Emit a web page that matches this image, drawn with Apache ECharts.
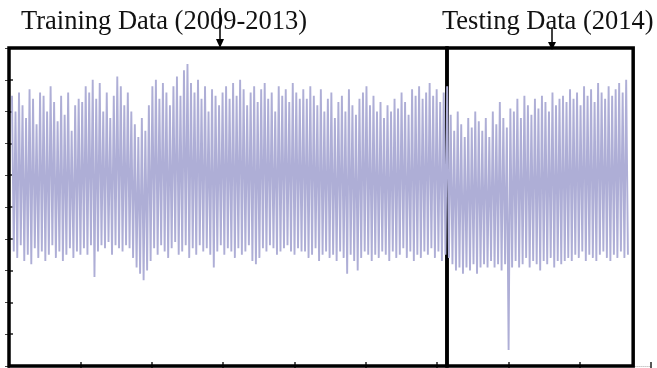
<!DOCTYPE html>
<html>
<head>
<meta charset="utf-8">
<script src="https://cdn.jsdelivr.net/npm/echarts@6/dist/echarts.min.js"></script>
<style>
  html, body { margin: 0; padding: 0; background: #fff; }
  #chart { width: 657px; height: 368px; }
</style>
</head>
<body>
<div id="chart"></div>
<script>
// one peak and one trough per cycle (axis units 0..100)
const peaks = [
  85,80,86,82,78,87,84,76,86,85,80,88,83,77,85,79,86,74,82,84,
  83,88,86,90,84,89,80,86,78,85,91,88,82,86,
  80,76,72,78,74,82,
  88,90,84,89,86,82,88,91,85,93,95,89,86,90,84,88,80,87,85,82,
  86,88,84,89,85,90,87,82,86,88,83,87,89,84,86,80,88,85,87,83,89,86,84,
  87,84,88,85,82,87,80,84,86,78,83,85,80,87,82,79,84,86,88,82,85,80,83,
  78,82,80,84,81,86,83,79,87,85,88,84,86,89,85,87,83,86,88,
  79,74,80,76,72,78,75,80,77,
  74,78,72,80,76,83,78,75,81,
  80,84,78,85,82,79,84,81,85,83,80,86,82,84,85,
  83,87,84,86,82,88,85,87,83,89,86,84,88,85,87,89,86,90
];
const troughs = [
  36,34,38,33,35,32,37,34,36,33,35,38,34,36,33,35,37,34,36,35,
  37,35,38,28,36,38,37,39,35,38,37,36,38,37,
  34,31,29,27,30,33,
  37,35,38,36,34,37,39,35,36,38,34,37,35,38,36,37,35,31,36,38,
  35,37,36,34,37,35,36,38,33,32,34,37,36,38,37,35,36,37,38,36,35,37,36,
  36,34,35,37,33,35,36,34,35,33,36,34,29,35,33,30,34,36,35,33,35,34,36,
  35,33,36,34,35,37,34,36,33,35,34,36,35,37,34,36,33,35,34,
  32,30,31,29,31,30,32,29,31,
  32,31,33,31,32,30,32,5,31,
  33,31,32,34,31,33,32,30,33,32,34,31,33,32,33,
  34,33,35,34,36,33,35,34,33,35,36,34,33,35,34,36,34,35
];
const boxEdges = [0, 6.14, 8.75];   // training | testing split on the x axis
const titles = ['Training Data (2009-2013)', 'Testing Data (2014)'];
const xStart = 0.042, xStep = 0.0246;  // half-cycle spacing in axis units

let series = [];
for (let i = 0; i < peaks.length; i++) {
  series.push([xStart + 2 * i * xStep, peaks[i]]);
  series.push([xStart + (2 * i + 1) * xStep, troughs[i]]);
}

const chart = echarts.init(document.getElementById('chart'));
const serif = '"Liberation Serif", "Times New Roman", serif';

const option = {
  animation: false,
  backgroundColor: '#fff',
  grid: { left: 9, right: 6, top: 48, bottom: 2 },
  xAxis: [
    {
      type: 'value', min: 0, max: 9, interval: 1, position: 'bottom',
      axisLine: { show: false },
      axisTick: { show: true, inside: true, length: 4, lineStyle: { color: '#222', width: 1.5 } },
      axisLabel: { show: false }, splitLine: { show: false }
    },
    {
      type: 'value', min: 0, max: 9, interval: 1, position: 'top',
      axisLine: { show: true, lineStyle: { color: '#ccc', width: 1, type: 'dotted' } },
      axisTick: { show: true, inside: true, length: 4, lineStyle: { color: '#222', width: 1.5 } },
      axisLabel: { show: false }, splitLine: { show: false }
    }
  ],
  yAxis: [
    {
      type: 'value', min: 0, max: 100, interval: 10, position: 'left',
      axisLine: { show: false },
      axisTick: { show: true, inside: true, length: 4, lineStyle: { color: '#222', width: 1.5 } },
      axisLabel: { show: false }, splitLine: { show: false }
    },
    {
      type: 'value', min: 0, max: 100, interval: 10, position: 'right',
      axisLine: { show: true, lineStyle: { color: '#bbb', width: 1 } },
      axisTick: { show: true, inside: true, length: 4, lineStyle: { color: '#444', width: 1 } },
      axisLabel: { show: false }, splitLine: { show: false }
    }
  ],
  series: [
    {
      type: 'line',
      data: series,
      symbol: 'none',
      lineStyle: { color: '#aeaed6', width: 1.9 },
      z: 2
    },
    {
      type: 'line',
      data: [],
      z: 10,
      markArea: {
        silent: true,
        itemStyle: { color: 'rgba(0,0,0,0)', borderColor: '#000', borderWidth: 3.5 },
        data: [
          [{ xAxis: boxEdges[0], yAxis: 0 }, { xAxis: boxEdges[1], yAxis: 100 }],
          [{ xAxis: boxEdges[1], yAxis: 0 }, { xAxis: boxEdges[2], yAxis: 100 }]
        ]
      }
    }
  ],
  graphic: [
    { type: 'text', left: 21, top: 9, style: { text: titles[0], font: '26.5px ' + serif, fill: '#111' } },
    { type: 'text', left: 442, top: 9, style: { text: titles[1], font: '26.5px ' + serif, fill: '#111' } },
    { type: 'line', shape: { x1: 220, y1: 8, x2: 220, y2: 42 }, style: { stroke: '#000', lineWidth: 1.5 } },
    { type: 'polygon', shape: { points: [[216, 39], [224, 39], [220, 48]] }, style: { fill: '#000' } },
    { type: 'line', shape: { x1: 552, y1: 28, x2: 552, y2: 44 }, style: { stroke: '#000', lineWidth: 1.5 } },
    { type: 'polygon', shape: { points: [[548, 42], [556, 42], [552, 50]] }, style: { fill: '#000' } }
  ]
};

chart.setOption(option);
</script>
</body>
</html>
